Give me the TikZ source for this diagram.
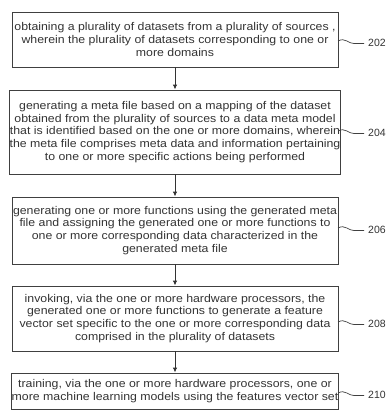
\documentclass[tikz,border=0pt]{standalone}
\usepackage{fontspec}
\setmainfont{Liberation Sans}[FakeStretch=1.1]
\newfontfamily\labelfont{Liberation Sans}
\usetikzlibrary{arrows.meta}
\begin{document}
\begin{tikzpicture}[x=1pt,y=-1pt,
  stepbox/.style={draw=black!75,line width=0.9pt,minimum width=326pt,inner sep=0pt,align=center,text=black!80,
    font=\fontsize{11.2}{12.8}\selectfont},
  flow/.style={draw=black!80,line width=0.9pt,-{Latex[length=5pt,width=4.5pt]}},
  squig/.style={draw=black!75,line width=0.7pt},
  reflabel/.style={anchor=west,inner sep=0pt,text=black!80,font=\labelfont\fontsize{10.5}{12}\selectfont}]
\useasboundingbox (0,0) rectangle (391,412);
\node[stepbox,minimum height=55pt] (b1) at (175,39.5) {obtaining a plurality of datasets from a plurality of sources ,\\ wherein the plurality of datasets corresponding to one or\\ more domains};
\node[stepbox,minimum height=84pt] (b2) at (175,132) {generating a meta file based on a mapping of the dataset\\ obtained from the plurality of sources to a data meta model\\ that is identified based on the one or more domains, wherein\\ the meta file comprises meta data and information pertaining\\ to one or more specific actions being performed};
\node[stepbox,minimum height=67pt] (b3) at (175,230.5) {generating one or more functions using the generated meta\\ file and assigning the generated one or more functions to\\ one or more corresponding data characterized in the\\ generated meta file};
\node[stepbox,minimum height=65pt] (b4) at (175,318.5) {invoking, via the one or more hardware processors, the\\ generated one or more functions to generate a feature\\ vector set specific to the one or more corresponding data\\ comprised in the plurality of datasets};
\node[stepbox,minimum height=36pt] (b5) at (175,391) {training, via the one or more hardware processors, one or\\ more machine learning models using the features vector set};
\draw[flow] (b1.south) -- (b2.north);
\draw[flow] (b2.south) -- (b3.north);
\draw[flow] (b3.south) -- (b4.north);
\draw[flow] (b4.south) -- (b5.north);
\foreach \b/\yy/\t in {b1/42/202,b2/132/204,b3/229/206,b4/323/208,b5/394/210}{
  \coordinate (s\t) at (338,\yy-1);
  \coordinate (e\t) at (364,\yy+1.5);
  \draw[squig] (s\t) .. controls (345,\yy-5) and (349,\yy+2) .. (354,\yy+1.5) -- (e\t);
  \node[reflabel] (l\t) at (368,\yy+1) {\t};
}
\end{tikzpicture}
\end{document}
